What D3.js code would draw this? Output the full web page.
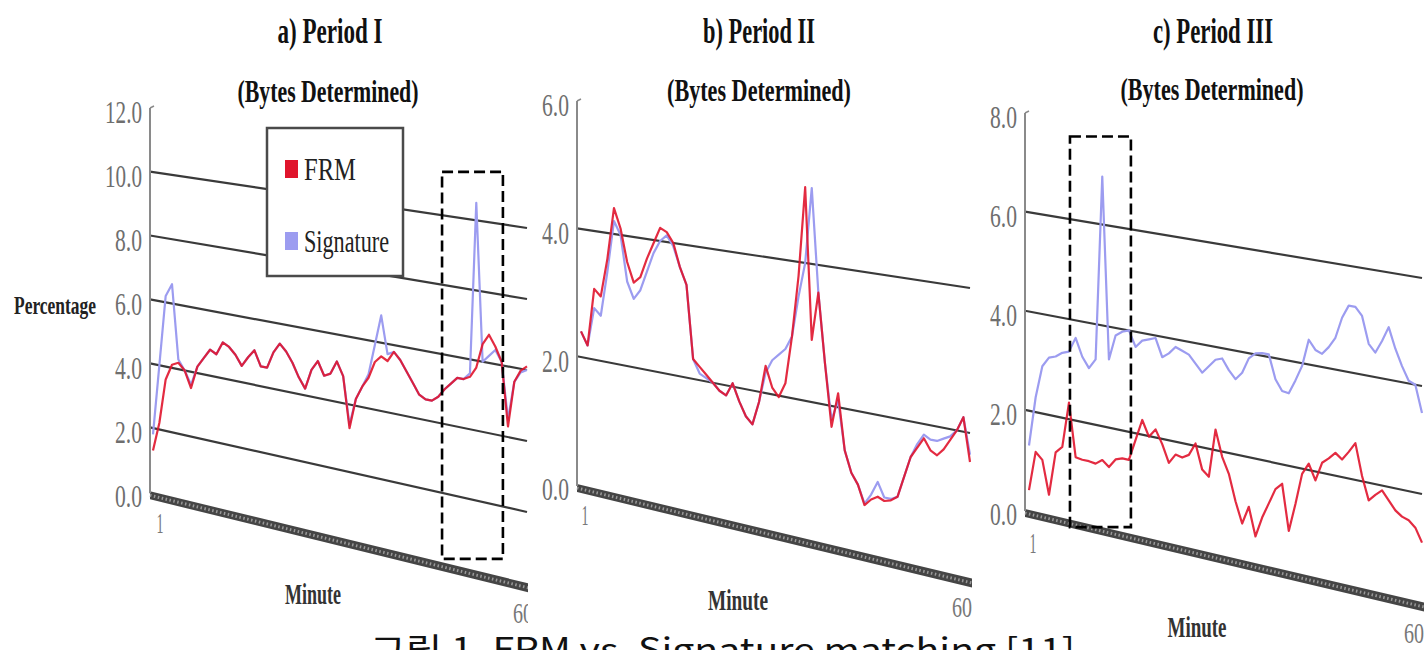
<!DOCTYPE html>
<html>
<head>
<meta charset="utf-8">
<script src="https://cdn.jsdelivr.net/npm/d3@7"></script>
<style>
  body { margin: 0; background: #fff; }
  svg { display: block; }
</style>
</head>
<body>
<div id="chart"></div>
<script>
var minutes = d3.range(1, 61);

// Period I
var frmA = [1.3, 2.2, 3.6, 4.1, 4.2, 4.0, 3.5, 4.2, 4.5, 4.8, 4.7, 5.1, 5.0, 4.8, 4.5, 4.8, 5.05, 4.6, 4.6, 5.1,
            5.4, 5.2, 4.9, 4.5, 4.2, 4.8, 5.1, 4.7, 4.8, 5.2, 4.8, 3.3, 4.2, 4.6, 4.9, 5.4, 5.6, 5.5, 5.8, 5.6,
            5.3, 5.0, 4.7, 4.6, 4.6, 4.75, 5.0, 5.2, 5.4, 5.4, 5.5, 5.8, 6.5, 6.8, 6.5, 6.1, 4.3, 5.6, 5.95, 6.1];
var sigA = [1.8, 4.0, 6.2, 6.6, 4.3, 4.0, 3.6, 4.2, 4.5, 4.8, 4.7, 5.1, 5.0, 4.8, 4.5, 4.8, 5.05, 4.6, 4.6, 5.1,
            5.4, 5.2, 4.9, 4.5, 4.2, 4.8, 5.1, 4.7, 4.8, 5.2, 4.8, 3.4, 4.2, 4.6, 5.0, 5.9, 6.8, 5.7, 5.8, 5.6,
            5.3, 5.0, 4.7, 4.6, 4.6, 4.75, 5.0, 5.2, 5.4, 5.4, 5.6, 10.5, 6.0, 6.2, 6.4, 6.1, 4.5, 5.6, 5.9, 6.0];

// Period II
var frmB = [2.4, 2.2, 3.1, 3.0, 3.6, 4.4, 4.1, 3.6, 3.3, 3.4, 3.7, 3.95, 4.2, 4.15, 4.0, 3.65, 3.4, 2.3, 2.2, 2.1,
            2.0, 1.9, 1.85, 2.05, 1.8, 1.6, 1.5, 1.85, 2.4, 2.1, 1.98, 2.2, 2.9, 3.8, 5.1, 2.9, 3.6, 2.6, 1.7, 2.2,
            1.4, 1.1, 0.95, 0.68, 0.78, 0.84, 0.8, 0.83, 0.9, 1.2, 1.5, 1.65, 1.8, 1.65, 1.6, 1.7, 1.85, 2.0, 2.2, 1.6];
var sigB = [2.4, 2.2, 2.8, 2.7, 3.4, 4.2, 4.0, 3.3, 3.05, 3.2, 3.5, 3.8, 4.0, 4.1, 3.95, 3.65, 3.4, 2.3, 2.1, 2.05,
            2.0, 1.9, 1.85, 2.05, 1.8, 1.6, 1.5, 1.85, 2.3, 2.5, 2.6, 2.7, 2.9, 3.5, 4.0, 5.1, 3.6, 2.6, 1.8, 2.1,
            1.4, 1.1, 0.95, 0.7, 0.85, 1.05, 0.85, 0.85, 0.9, 1.2, 1.5, 1.7, 1.85, 1.8, 1.8, 1.85, 1.9, 2.0, 2.2, 1.7];

// Period III
var frmC = [0.4, 1.2, 1.07, 0.4, 1.28, 1.42, 2.33, 1.27, 1.25, 1.25, 1.23, 1.33, 1.22, 1.4, 1.45, 1.45, 1.87, 2.29, 1.99, 2.16,
            1.9, 1.56, 1.75, 1.72, 1.8, 2.05, 1.57, 1.46, 2.4, 1.9, 1.6, 1.1, 0.7, 1.05, 0.51, 0.9, 1.2, 1.5, 1.63, 0.76,
            1.3, 1.9, 2.12, 1.83, 2.19, 2.3, 2.43, 2.33, 2.5, 2.69, 2.1, 1.67, 1.8, 1.91, 1.75, 1.59, 1.5, 1.46, 1.35, 1.1];
var sigC = [1.3, 2.3, 2.95, 3.15, 3.2, 3.3, 3.35, 3.65, 3.3, 3.1, 3.3, 6.95, 3.35, 3.85, 3.95, 4.0, 3.7, 3.85, 3.9, 3.95,
            3.6, 3.7, 3.85, 3.8, 3.75, 3.6, 3.45, 3.6, 3.75, 3.8, 3.6, 3.45, 3.6, 3.9, 4.02, 4.05, 4.05, 3.6, 3.4, 3.38,
            3.65, 3.95, 4.47, 4.3, 4.25, 4.4, 4.6, 5.0, 5.25, 5.25, 5.1, 4.6, 4.46, 4.7, 4.98, 4.6, 4.3, 4.05, 4.0, 3.5];

var ticksA = [0, 2, 4, 6, 8, 10, 12], gridA = [2, 4, 6, 8, 10];
var ticksB = [0, 2, 4, 6], gridB = [2, 4];
var ticksC = [0, 2, 4, 6, 8], gridC = [2, 4, 6];

// dashed highlight boxes: [from minute, to minute, top value, bottom value]
var boxA = [46.6, 56.2, 11.25, 0.1];
var boxC = [7.15, 16.3, 7.65, -0.15];

var titles = ["a) Period I", "b) Period II", "c) Period III"];
var subTitle = "(Bytes Determined)";
var seriesNames = ["FRM", "Signature"];
var seriesColors = ["#e0142c", "#9c9cf0"];
var caption = "\uADF8\uB9BC 1. FRM vs. Signature matching [11]";

var w = 1426, h = 650;
var serif = "'Liberation Serif', 'DejaVu Serif', serif";

var svg = d3.select("#chart").append("svg")
  .attr("width", w)
  .attr("height", h);

svg.append("clipPath").attr("id", "clip-a")
  .append("rect").attr("x", 0).attr("y", 0).attr("width", 528).attr("height", h);

var panels = [
  { frm: frmA, sig: sigA, ticks: ticksA, grid: gridA, box: boxA, clip: "url(#clip-a)",
    axisX: 150, x0: 153, x1: 527, yL: [0, 12, 492, 108], yR: [0, 10, 583, 228],
    title: [330, 43, 105], sub: [328, 102, 181],
    one: [160, 523], sixty: [523, 613], minute: [313, 594, 56] },
  { frm: frmB, sig: sigB, ticks: ticksB, grid: gridB, box: null, clip: null,
    axisX: 577, x0: 581, x1: 970, yL: [0, 6, 485, 101], yR: [0, 4, 578, 288],
    title: [759, 43, 112], sub: [759, 101, 184],
    one: [585, 515], sixty: [962, 607], minute: [738, 600, 60] },
  { frm: frmC, sig: sigC, ticks: ticksC, grid: gridC, box: boxC, clip: null,
    axisX: 1025, x0: 1029, x1: 1422, yL: [0, 8, 510, 113], yR: [0, 6, 602, 278],
    title: [1213, 43, 120], sub: [1212, 100, 183],
    one: [1033, 543], sixty: [1414, 633], minute: [1197, 627, 59] }
];

panels.forEach(function(p, i) {
  var g = svg.append("g");
  if (p.clip) g.attr("clip-path", p.clip);

  var xScale = d3.scaleLinear().domain([1, 60]).range([p.x0, p.x1]);
  var yLeft = d3.scaleLinear().domain([p.yL[0], p.yL[1]]).range([p.yL[2], p.yL[3]]);
  var yRight = d3.scaleLinear().domain([p.yR[0], p.yR[1]]).range([p.yR[2], p.yR[3]]);

  // oblique projection: left wall scale blends into right wall scale
  var projX = function(x, v) {
    var t = (x - p.x0) / (p.x1 - p.x0);
    return [x, yLeft(v) * (1 - t) + yRight(v) * t];
  };
  var proj = function(m, v) { return projX(xScale(m), v); };

  // gridlines
  g.append("g").selectAll("line")
    .data(p.grid)
    .enter()
    .append("line")
    .attr("x1", p.axisX)
    .attr("y1", function(d) { return projX(p.axisX, d)[1]; })
    .attr("x2", p.x1)
    .attr("y2", function(d) { return projX(p.x1, d)[1]; })
    .attr("stroke", "#3a3a3a")
    .attr("stroke-width", 2.2);

  // floor band
  var f0 = projX(p.axisX, 0), f1 = projX(p.x1 + 2, 0);
  g.append("polygon")
    .attr("points", [f0, f1, [f1[0], f1[1] + 9], [f0[0], f0[1] + 8]].map(function(d) { return d.join(","); }).join(" "))
    .attr("fill", "#454545");
  g.append("line")
    .attr("x1", f0[0]).attr("y1", f0[1] + 4)
    .attr("x2", f1[0]).attr("y2", f1[1] + 4.5)
    .attr("stroke", "#999")
    .attr("stroke-width", 3)
    .attr("stroke-dasharray", "1.5,2.5");

  // value axis
  var topY = yLeft(p.yL[1]);
  g.append("line")
    .attr("x1", p.axisX).attr("y1", topY)
    .attr("x2", p.axisX).attr("y2", f0[1] + 2)
    .attr("stroke", "#8a8a8a")
    .attr("stroke-width", 2);
  g.append("line")
    .attr("x1", p.axisX).attr("y1", topY)
    .attr("x2", p.axisX + 4).attr("y2", topY - 2)
    .attr("stroke", "#8a8a8a")
    .attr("stroke-width", 1.5);

  g.append("g").selectAll("text")
    .data(p.ticks)
    .enter()
    .append("text")
    .attr("x", p.axisX - 8)
    .attr("y", function(d) { return yLeft(d) + 4; })
    .attr("text-anchor", "end")
    .attr("dominant-baseline", "central")
    .attr("font-family", serif)
    .attr("font-size", 31)
    .attr("fill", "#6e6e6e")
    .attr("textLength", function(d) { return d >= 10 ? 37 : 27; })
    .attr("lengthAdjust", "spacingAndGlyphs")
    .text(function(d) { return d.toFixed(1); });

  // series lines
  var line = d3.line()
    .x(function(d, j) { return proj(minutes[j], d)[0]; })
    .y(function(d, j) { return proj(minutes[j], d)[1]; });

  g.append("path")
    .datum(p.sig)
    .attr("d", line)
    .attr("fill", "none")
    .attr("stroke", seriesColors[1])
    .attr("stroke-width", 2.2)
    .attr("stroke-linejoin", "round");

  g.append("path")
    .datum(p.frm)
    .attr("d", line)
    .attr("fill", "none")
    .attr("stroke", seriesColors[0])
    .attr("stroke-width", 2.2)
    .attr("stroke-opacity", 0.9)
    .attr("stroke-linejoin", "round");

  // dashed highlight
  if (p.box) {
    var bx0 = xScale(p.box[0]), bx1 = xScale(p.box[1]);
    var by0 = proj(p.box[0], p.box[2])[1], by1 = proj(p.box[0], p.box[3])[1];
    g.append("rect")
      .attr("x", bx0).attr("y", by0)
      .attr("width", bx1 - bx0).attr("height", by1 - by0)
      .attr("fill", "none")
      .attr("stroke", "#000")
      .attr("stroke-width", 2.6)
      .attr("stroke-dasharray", "11,5");
  }

  // titles
  g.append("text")
    .attr("x", p.title[0]).attr("y", p.title[1])
    .attr("text-anchor", "middle")
    .attr("font-family", serif).attr("font-weight", "bold")
    .attr("font-size", 36)
    .attr("fill", "#111")
    .attr("textLength", p.title[2]).attr("lengthAdjust", "spacingAndGlyphs")
    .text(titles[i]);
  g.append("text")
    .attr("x", p.sub[0]).attr("y", p.sub[1])
    .attr("text-anchor", "middle")
    .attr("font-family", serif).attr("font-weight", "bold")
    .attr("font-size", 32)
    .attr("fill", "#111")
    .attr("textLength", p.sub[2]).attr("lengthAdjust", "spacingAndGlyphs")
    .text(subTitle);

  // minute axis labels
  g.append("text")
    .attr("x", p.one[0]).attr("y", p.one[1])
    .attr("text-anchor", "middle").attr("dominant-baseline", "central")
    .attr("font-family", serif).attr("font-size", 29)
    .attr("fill", "#777")
    .attr("textLength", 7).attr("lengthAdjust", "spacingAndGlyphs")
    .text(minutes[0]);
  g.append("text")
    .attr("x", p.sixty[0]).attr("y", p.sixty[1])
    .attr("text-anchor", "middle").attr("dominant-baseline", "central")
    .attr("font-family", serif).attr("font-size", 29)
    .attr("fill", "#777")
    .attr("textLength", 20).attr("lengthAdjust", "spacingAndGlyphs")
    .text(minutes[minutes.length - 1]);
  g.append("text")
    .attr("x", p.minute[0]).attr("y", p.minute[1])
    .attr("text-anchor", "middle").attr("dominant-baseline", "central")
    .attr("font-family", serif).attr("font-weight", "bold").attr("font-size", 29)
    .attr("fill", "#333")
    .attr("textLength", p.minute[2]).attr("lengthAdjust", "spacingAndGlyphs")
    .text("Minute");
});

// y title (panel a)
svg.append("text")
  .attr("x", 55).attr("y", 305)
  .attr("text-anchor", "middle").attr("dominant-baseline", "central")
  .attr("font-family", serif).attr("font-weight", "bold").attr("font-size", 26)
  .attr("fill", "#222")
  .attr("textLength", 82).attr("lengthAdjust", "spacingAndGlyphs")
  .text("Percentage");

// legend (panel a)
var legend = svg.append("g");
legend.append("rect")
  .attr("x", 267).attr("y", 128)
  .attr("width", 136).attr("height", 148)
  .attr("fill", "#fff")
  .attr("stroke", "#4a4a4a")
  .attr("stroke-width", 2.5);

var legendItems = legend.selectAll("g.item")
  .data(seriesNames)
  .enter()
  .append("g")
  .attr("class", "item")
  .attr("transform", function(d, i) { return "translate(0," + (i * 72) + ")"; });

legendItems.append("rect")
  .attr("x", 285).attr("y", 160)
  .attr("width", 13).attr("height", 18)
  .attr("fill", function(d, i) { return seriesColors[i]; });

legendItems.append("text")
  .attr("x", 304).attr("y", 180)
  .attr("font-family", serif).attr("font-size", 31)
  .attr("fill", "#222")
  .attr("textLength", function(d) { return d === "FRM" ? 52 : 85; })
  .attr("lengthAdjust", "spacingAndGlyphs")
  .text(function(d) { return d; });

// caption, cut by the bottom edge as in the source
svg.append("text")
  .attr("x", 370).attr("y", 661)
  .attr("font-family", "'Noto Sans CJK KR', 'Noto Sans', sans-serif")
  .attr("font-size", 32)
  .attr("fill", "#111")
  .attr("textLength", 705).attr("lengthAdjust", "spacingAndGlyphs")
  .text(caption);
</script>
</body>
</html>
